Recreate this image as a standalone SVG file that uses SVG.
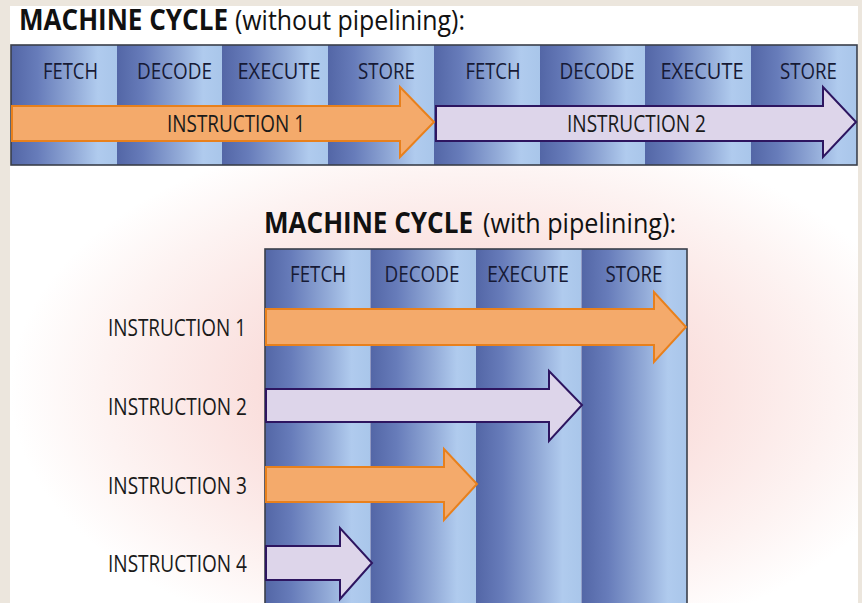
<svg xmlns="http://www.w3.org/2000/svg" width="862" height="603" viewBox="0 0 862 603">
<style>
.title{font-family:"Open Sans","Liberation Sans",sans-serif;font-size:28px;fill:#111;}
.b{font-weight:bold;}
.col{font-family:"Open Sans","Liberation Sans",sans-serif;font-size:21px;font-weight:500;fill:#161a35;text-anchor:middle;}
.lab{font-family:"Open Sans","Liberation Sans",sans-serif;font-size:23px;font-weight:500;fill:#1a1a1a;}
.inst{font-family:"Open Sans","Liberation Sans",sans-serif;font-size:23px;font-weight:500;fill:#1a1a1a;text-anchor:middle;}
.orange{fill:#f4aa6b;stroke:#e8801c;stroke-width:2;stroke-linejoin:miter;}
.lav{fill:#ddd5ea;stroke:#2d1560;stroke-width:2;stroke-linejoin:miter;}
.band{fill:none;stroke:#3a3f4a;stroke-width:1.6;}
.c{fill:url(#colg);}
</style>
<defs>
<linearGradient id="colg" x1="0" y1="0" x2="1" y2="0">
<stop offset="0" stop-color="#5366a6"/>
<stop offset="0.25" stop-color="#677cba"/>
<stop offset="0.6" stop-color="#93abd8"/>
<stop offset="0.82" stop-color="#b0cbee"/>
<stop offset="1" stop-color="#a9c6ea"/>
</linearGradient>
<radialGradient id="glow" cx="0.5" cy="0.5" r="0.5">
<stop offset="0" stop-color="#f6cbc9"/>
<stop offset="0.45" stop-color="#fadfdd"/>
<stop offset="0.8" stop-color="#fdf3f2"/>
<stop offset="1" stop-color="#ffffff"/>
</radialGradient>
<clipPath id="panel"><rect x="10" y="6" width="848" height="600"/></clipPath>
</defs>
<rect x="0" y="0" width="862" height="603" fill="#ece6dd"/>
<rect x="10" y="6" width="848" height="600" fill="#ffffff"/>
<ellipse cx="470" cy="390" rx="460" ry="270" fill="url(#glow)" clip-path="url(#panel)"/>
<rect x="10" y="6" width="848" height="36" fill="#ffffff"/>

<g id="title-top">
<text class="title" x="19" y="30"><tspan class="b" textLength="209" lengthAdjust="spacingAndGlyphs">MACHINE CYCLE</tspan><tspan x="235" textLength="230" lengthAdjust="spacingAndGlyphs">(without pipelining):</tspan></text>
</g>

<g id="band-top">
<rect class="c" x="11" y="45" width="106" height="120"/>
<rect class="c" x="117" y="45" width="105" height="120"/>
<rect class="c" x="222" y="45" width="106" height="120"/>
<rect class="c" x="328" y="45" width="106" height="120"/>
<rect class="c" x="434" y="45" width="106" height="120"/>
<rect class="c" x="540" y="45" width="105" height="120"/>
<rect class="c" x="645" y="45" width="106" height="120"/>
<rect class="c" x="751" y="45" width="106" height="120"/>
<rect class="band" x="11" y="45" width="846" height="120"/>
<text class="col" x="70.5" y="79" textLength="55" lengthAdjust="spacingAndGlyphs">FETCH</text>
<text class="col" x="174.5" y="79" textLength="75" lengthAdjust="spacingAndGlyphs">DECODE</text>
<text class="col" x="279" y="79" textLength="83" lengthAdjust="spacingAndGlyphs">EXECUTE</text>
<text class="col" x="386.5" y="79" textLength="57" lengthAdjust="spacingAndGlyphs">STORE</text>
<text class="col" x="493" y="79" textLength="55" lengthAdjust="spacingAndGlyphs">FETCH</text>
<text class="col" x="597" y="79" textLength="75" lengthAdjust="spacingAndGlyphs">DECODE</text>
<text class="col" x="702" y="79" textLength="83" lengthAdjust="spacingAndGlyphs">EXECUTE</text>
<text class="col" x="808.5" y="79" textLength="57" lengthAdjust="spacingAndGlyphs">STORE</text>
</g>

<g id="top-instruction-1">
<path class="orange" d="M12,106 H400 V87 L434,122 L400,157 V141 H12 Z"/>
<text class="inst" x="236" y="132" textLength="138" lengthAdjust="spacingAndGlyphs">INSTRUCTION 1</text>
</g>
<g id="top-instruction-2">
<path class="lav" d="M436,106 H823 V87 L856,122 L823,157 V141 H436 Z"/>
<text class="inst" x="636.5" y="132" textLength="139" lengthAdjust="spacingAndGlyphs">INSTRUCTION 2</text>
</g>

<g id="title-bottom">
<text class="title" x="264" y="233"><tspan class="b" textLength="209" lengthAdjust="spacingAndGlyphs">MACHINE CYCLE</tspan><tspan x="483" textLength="193" lengthAdjust="spacingAndGlyphs">(with pipelining):</tspan></text>
</g>

<g id="band-bottom">
<rect class="c" x="265" y="249" width="105.5" height="360"/>
<rect class="c" x="370.5" y="249" width="105.5" height="360"/>
<rect class="c" x="476" y="249" width="105.5" height="360"/>
<rect class="c" x="581.5" y="249" width="105.5" height="360"/>
<rect class="band" x="265" y="249" width="422" height="360"/>
<text class="col" x="318" y="282" textLength="56" lengthAdjust="spacingAndGlyphs">FETCH</text>
<text class="col" x="422" y="282" textLength="75" lengthAdjust="spacingAndGlyphs">DECODE</text>
<text class="col" x="528" y="282" textLength="82" lengthAdjust="spacingAndGlyphs">EXECUTE</text>
<text class="col" x="634" y="282" textLength="57" lengthAdjust="spacingAndGlyphs">STORE</text>
</g>

<g id="connectors">
<g id="pipe-instruction-1">
<path class="orange" d="M266,309 H654 V292 L686,327 L654,362 V345 H266 Z"/>
<text class="lab" x="108" y="336" textLength="138" lengthAdjust="spacingAndGlyphs">INSTRUCTION 1</text>
</g>
<g id="pipe-instruction-2">
<path class="lav" d="M266,389 H549 V371 L582,405 L549,441 V422 H266 Z"/>
<text class="lab" x="108" y="415" textLength="139" lengthAdjust="spacingAndGlyphs">INSTRUCTION 2</text>
</g>
<g id="pipe-instruction-3">
<path class="orange" d="M266,467 H444 V449 L477,484 L444,520 V502 H266 Z"/>
<text class="lab" x="108" y="494" textLength="139" lengthAdjust="spacingAndGlyphs">INSTRUCTION 3</text>
</g>
<g id="pipe-instruction-4">
<path class="lav" d="M266,546 H340 V528 L372,563 L340,599 V580 H266 Z"/>
<text class="lab" x="108" y="572" textLength="139" lengthAdjust="spacingAndGlyphs">INSTRUCTION 4</text>
</g>
</g>
</svg>
